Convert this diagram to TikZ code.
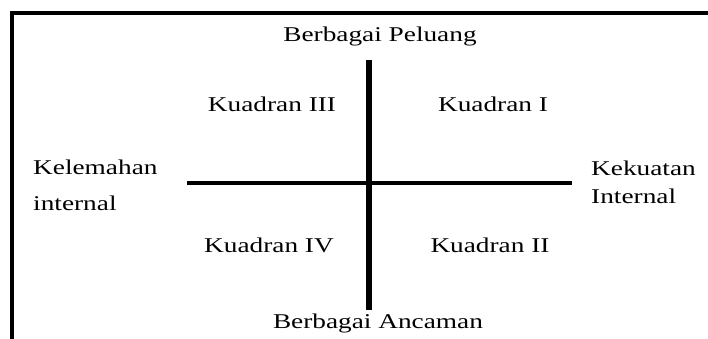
\documentclass[tikz,border=0pt]{standalone}
\usepackage{fontspec}
\setmainfont[FakeStretch=1.3]{Liberation Serif}
\begin{document}
\begin{tikzpicture}[x=1pt,y=-1pt,
  lbl/.style={inner sep=0pt,anchor=base,font=\fontsize{21}{25}\selectfont},
  lbll/.style={inner sep=0pt,anchor=base west,font=\fontsize{21}{25}\selectfont},
  frame/.style={line width=4.6pt},
  axis/.style={line width=4.6pt}]
\useasboundingbox (0,0) rectangle (708,339);
% open frame: left and top edges
\coordinate (fb) at (12,345);
\coordinate (fc) at (12,13);
\coordinate (fr) at (715,13);
\draw[frame] (fb) -- (fc) -- (fr);
% axes
\coordinate (vt) at (369,60);
\coordinate (vb) at (369,310);
\coordinate (hl) at (187,183);
\coordinate (hr) at (572,183);
\draw[axis,line width=5.5pt] (vt) -- (vb);
\draw[axis,line width=4.2pt] (hl) -- (hr);
% labels
\node[lbl] (peluang) at (380,41.5) {Berbagai Peluang};
\node[lbl] (ancaman) at (378,328) {Berbagai Ancaman};
\node[lbl] (q3) at (272,112) {Kuadran III};
\node[lbl] (q1) at (493,112) {Kuadran I};
\node[lbl] (q4) at (269,252) {Kuadran IV};
\node[lbl] (q2) at (490,252) {Kuadran II};
\node[lbll] (kel1) at (33,174) {Kelemahan};
\node[lbll] (kel2) at (33,210) {internal};
\node[lbll] (kek1) at (591,175) {Kekuatan};
\node[lbll] (kek2) at (591,203) {Internal};
\end{tikzpicture}
\end{document}
